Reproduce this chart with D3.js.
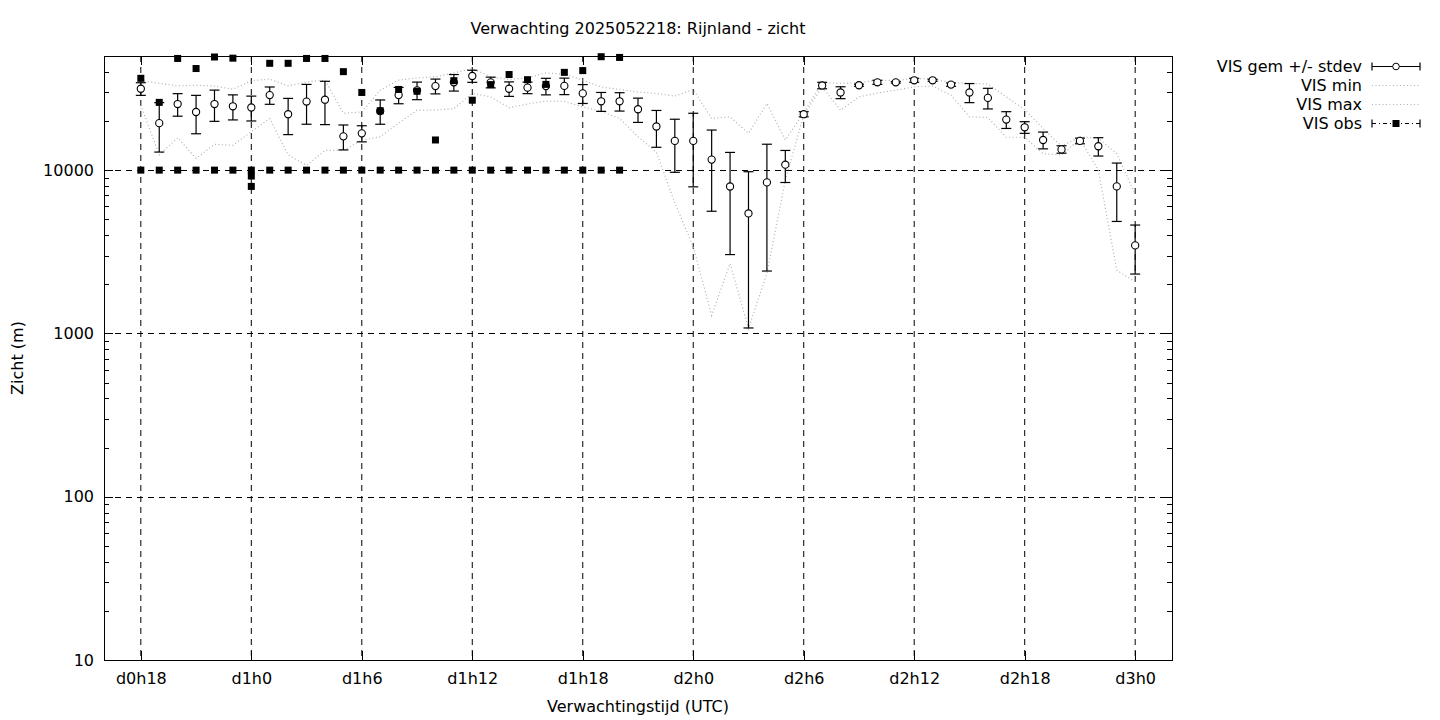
<!DOCTYPE html>
<html>
<head>
<meta charset="utf-8">
<script src="https://cdn.jsdelivr.net/npm/d3@7"></script>
<style>
  html, body { margin: 0; padding: 0; background: #fff; }
  svg { display: block; }
  text { font-family: "DejaVu Sans", sans-serif; fill: #000; }
</style>
</head>
<body>
<svg id="chart" width="1440" height="720"></svg>
<script>
// ---- data (forecast hour since d0h0) ----
const hours = d3.range(18, 73);
const visMean = [31500,19400,25400,22700,25400,24600,24200,28800,22000,26300,27000,16100,16800,23000,28800,30800,32700,34500,37700,34500,31500,32000,32700,32800,29500,26400,26400,23600,18500,15100,15100,11600,7940,5430,8410,10800,22000,33000,29900,33100,34500,34500,35500,35500,33400,29900,27700,20400,18300,15300,13400,15100,14000,7950,3460];
const visStdev = [2800,6500,4000,6000,5500,4300,4200,3500,5500,7200,8000,2800,1900,3900,3300,3800,3400,4000,3200,2600,3200,2600,3800,3800,3900,3500,3400,4000,4700,5400,7200,6000,4900,4350,6000,2400,800,1500,2500,500,1000,400,1000,500,800,4000,4000,2400,1500,1800,700,600,1800,3100,1150];
const visMin = [25000,12400,15800,11800,14400,14200,17200,20700,12400,10700,13200,13200,15300,16000,19400,23300,23300,23800,29500,28100,24100,25400,26500,26400,24400,22900,20700,16000,12900,6300,3400,1290,2680,1070,2330,8690,21700,32300,23300,28100,29700,30900,32400,32700,28800,21200,21000,15900,15900,12600,12400,15500,10000,2440,2070];
const visMax = [35300,34000,32800,33100,32700,31300,35300,36100,32800,34700,35600,22300,22700,30900,35600,36700,37300,39400,41900,37300,35900,36800,39400,38700,35600,32300,31200,30100,29500,28400,31200,20700,21200,16800,25600,15300,22400,34400,34000,34300,35600,35300,36500,36100,34400,34000,33700,28100,23500,18000,14000,16000,15700,12600,7100];
// observations (hours 18..44), several stations per hour
const obsHours = d3.range(18, 45);
const obsValues = [
  [10000,36500],[10000,26000],[10000,48300],[10000,41900],[10000,49300],[10000,48500],
  [10000,9200,7950],[10000,45100],[10000,45100],[10000,48300],[10000,48300],[10000,40100],
  [10000,29900],[10000,23100],[10000,31200],[10000,30400],[10000,15300],[10000,35300],
  [10000,26800],[10000,33400],[10000,38500],[10000,35800],[10000,33500],[10000,39700],
  [10000,40700],[10000,49500],[10000,49000]
];
const xTicks = [18,24,30,36,42,48,54,60,66,72];
const yMajor = [10,100,1000,10000];
const legendLabels = ["VIS gem +/- stdev","VIS min","VIS max","VIS obs"];
const titleText = "Verwachting 2025052218: Rijnland - zicht";

// ---- layout ----
const L = 104, R = 1172, T = 56, B = 660;
const svg = d3.select("#chart");
const x = d3.scaleLinear().domain([16, 74]).range([L, R]);
const y = d3.scaleLog().domain([10, 50000]).range([B, T]);
const FS = 16;

// grid
const g = svg.append("g");
g.selectAll(".gx").data(xTicks).join("line")
  .attr("x1", d => x(d)).attr("x2", d => x(d)).attr("y1", T).attr("y2", B)
  .attr("stroke", "#000").attr("stroke-width", 1).attr("stroke-dasharray", "6,5");
g.selectAll(".gy").data(yMajor.filter(v => v > 10)).join("line")
  .attr("x1", L).attr("x2", R).attr("y1", d => Math.round(y(d)) + 0.5).attr("y2", d => Math.round(y(d)) + 0.5)
  .attr("stroke", "#000").attr("stroke-width", 1).attr("stroke-dasharray", "6,5");

// y ticks (left, right), minor ticks
const minor = [];
for (let e = 1; e <= 4; e++) for (let k = 2; k <= 9; k++) { const v = k * Math.pow(10, e); if (v <= 50000) minor.push(v); }
const axL = d3.axisLeft(y).tickValues(yMajor).tickFormat(d3.format("d")).tickSize(0).tickPadding(10);
const gyL = svg.append("g").attr("transform", `translate(${L},0)`).call(axL);
gyL.select(".domain").remove();
gyL.selectAll("text").attr("font-size", FS).attr("font-family", "DejaVu Sans");
const tk = svg.append("g").attr("stroke", "#000").attr("stroke-width", 1);
minor.forEach(v => {
  const yy = Math.round(y(v)) + 0.5;
  tk.append("line").attr("x1", L).attr("x2", L + 5).attr("y1", yy).attr("y2", yy);
  tk.append("line").attr("x1", R - 5).attr("x2", R).attr("y1", yy).attr("y2", yy);
});
yMajor.forEach(v => {
  const yy = Math.round(y(v)) + 0.5;
  tk.append("line").attr("x1", L).attr("x2", L + 9).attr("y1", yy).attr("y2", yy);
  tk.append("line").attr("x1", R - 9).attr("x2", R).attr("y1", yy).attr("y2", yy);
});
xTicks.forEach(h => {
  const xx = Math.round(x(h)) + 0.5;
  tk.append("line").attr("x1", xx).attr("x2", xx).attr("y1", B).attr("y2", B - 9);
  tk.append("line").attr("x1", xx).attr("x2", xx).attr("y1", T).attr("y2", T + 9);
});

// x axis labels
const axB = d3.axisBottom(x).tickValues(xTicks)
  .tickFormat(h => `d${Math.floor(h / 24)}h${h % 24}`).tickSize(0).tickPadding(13);
const gxB = svg.append("g").attr("transform", `translate(0,${B})`).call(axB);
gxB.select(".domain").remove();
gxB.selectAll("text").attr("font-size", FS).attr("font-family", "DejaVu Sans");

// min / max dotted lines
const line = d3.line().x((d, i) => x(hours[i])).y(d => y(d));
[visMin, visMax].forEach(arr => {
  svg.append("path").attr("d", line(arr)).attr("fill", "none")
    .attr("stroke", "#b0b0b0").attr("stroke-width", 1.2).attr("stroke-dasharray", "1,2.5");
});

// error bars
const eb = svg.append("g").attr("stroke", "#000").attr("stroke-width", 1.2);
hours.forEach((h, i) => {
  const xx = x(h);
  const hi = y(visMean[i] + visStdev[i]);
  const lo = y(Math.max(visMean[i] - visStdev[i], 10));
  eb.append("line").attr("x1", xx).attr("x2", xx).attr("y1", hi).attr("y2", lo);
  eb.append("line").attr("x1", xx - 5).attr("x2", xx + 5).attr("y1", hi).attr("y2", hi);
  eb.append("line").attr("x1", xx - 5).attr("x2", xx + 5).attr("y1", lo).attr("y2", lo);
});
svg.append("g").selectAll("circle").data(visMean).join("circle")
  .attr("cx", (d, i) => x(hours[i])).attr("cy", d => y(d)).attr("r", 3.6)
  .attr("fill", "#fff").attr("stroke", "#000").attr("stroke-width", 1.1);

// observations
const obsPts = [];
obsHours.forEach((h, i) => obsValues[i].forEach(v => obsPts.push([h, v])));
svg.append("g").selectAll("rect").data(obsPts).join("rect")
  .attr("x", d => x(d[0]) - 3.5).attr("y", d => y(d[1]) - 3.5)
  .attr("width", 7).attr("height", 7).attr("fill", "#000");

// border
svg.append("rect").attr("x", L + 0.5).attr("y", T + 0.5).attr("width", R - L).attr("height", B - T)
  .attr("fill", "none").attr("stroke", "#000").attr("stroke-width", 1);

// titles
svg.append("text").attr("x", 638).attr("y", 34).attr("text-anchor", "middle").attr("font-size", FS).text(titleText);
svg.append("text").attr("x", 638).attr("y", 712).attr("text-anchor", "middle").attr("font-size", FS).text("Verwachtingstijd (UTC)");
svg.append("text").attr("transform", "translate(23,358) rotate(-90)").attr("text-anchor", "middle").attr("font-size", FS).text("Zicht (m)");

// legend
const lg = svg.append("g");
const lx1 = 1372, lx2 = 1420, lxm = 1396;
legendLabels.forEach((t, i) => {
  const yy = 66 + i * 19;
  lg.append("text").attr("x", 1362).attr("y", yy + 5.5).attr("text-anchor", "end").attr("font-size", FS).text(t);
});
// gem
let yy = 66.5;
lg.append("line").attr("x1", lx1).attr("x2", lx2).attr("y1", yy).attr("y2", yy).attr("stroke", "#000").attr("stroke-width", 1.2);
[lx1, lx2].forEach(xx => lg.append("line").attr("x1", xx).attr("x2", xx).attr("y1", yy - 4).attr("y2", yy + 4).attr("stroke", "#000").attr("stroke-width", 1.2));
lg.append("circle").attr("cx", lxm).attr("cy", yy).attr("r", 3.3).attr("fill", "#fff").attr("stroke", "#000");
// min, max
[85.5, 104.5].forEach(v => lg.append("line").attr("x1", lx1).attr("x2", lx2).attr("y1", v).attr("y2", v)
  .attr("stroke", "#b0b0b0").attr("stroke-width", 1.2).attr("stroke-dasharray", "1,2.5"));
// obs
yy = 123.5;
lg.append("line").attr("x1", lx1).attr("x2", lx2).attr("y1", yy).attr("y2", yy).attr("stroke", "#000").attr("stroke-width", 1.2).attr("stroke-dasharray", "4,3,1,3");
[lx1, lx2].forEach(xx => lg.append("line").attr("x1", xx).attr("x2", xx).attr("y1", yy - 4).attr("y2", yy + 4).attr("stroke", "#000").attr("stroke-width", 1.2));
lg.append("rect").attr("x", lxm - 3.5).attr("y", yy - 3.5).attr("width", 7).attr("height", 7).attr("fill", "#000");
</script>
</body>
</html>
